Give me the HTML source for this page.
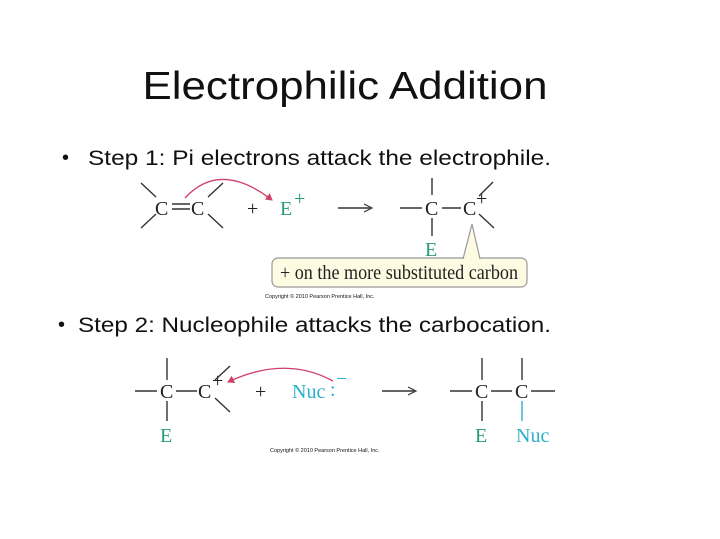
<!DOCTYPE html>
<html><head><meta charset="utf-8"><style>
html,body{margin:0;padding:0;background:#fff;}
svg{display:block}
.s{font-family:"Liberation Sans",sans-serif;fill:#111}
.m{font-family:"Liberation Serif",serif;font-size:20px;fill:#222}
.g{fill:#2a9a78}.c{fill:#2ab0c8}
line{stroke:#333;stroke-width:1.4}
</style></head><body>
<svg width="720" height="539" viewBox="0 0 720 539" xmlns="http://www.w3.org/2000/svg">
<defs><marker id="ah" markerWidth="8" markerHeight="8" refX="6" refY="4" orient="auto" markerUnits="userSpaceOnUse"><path d="M0,0 L7,4 L0,8 z" fill="#d0406a"/></marker></defs>
<text class="s" x="345" y="99" font-size="39" text-anchor="middle" textLength="405" lengthAdjust="spacingAndGlyphs">Electrophilic Addition</text>
<text class="s" x="62" y="164" font-size="20">•</text>
<text class="s" x="88" y="165" font-size="21" textLength="463" lengthAdjust="spacingAndGlyphs">Step 1:  Pi electrons attack the electrophile.</text>
<text class="s" x="58" y="331" font-size="20">•</text>
<text class="s" x="78" y="332" font-size="21" textLength="473" lengthAdjust="spacingAndGlyphs">Step 2:  Nucleophile attacks the carbocation.</text>

<!-- reaction 1 -->
<line x1="141" y1="183" x2="156" y2="197"/><line x1="141" y1="228" x2="156" y2="214"/>
<text class="m" x="155" y="215">C</text>
<line x1="172" y1="204" x2="190" y2="204"/><line x1="172" y1="209" x2="190" y2="209"/>
<text class="m" x="191" y="215">C</text>
<line x1="208" y1="197" x2="223" y2="183"/><line x1="208" y1="214" x2="223" y2="228"/>
<text class="m" x="247" y="215">+</text>
<text class="m g" x="280" y="215">E</text><text class="m g" x="294" y="205" font-size="10">+</text>
<path d="M185,198 Q220,160 272,200" fill="none" stroke="#d0406a" stroke-width="1.3" marker-end="url(#ah)"/>
<line x1="338" y1="208" x2="370" y2="208"/><path d="M364,204 L372,208 L364,212" fill="none" stroke="#333" stroke-width="1.2"/>
<line x1="400" y1="208" x2="422" y2="208"/>
<line x1="432" y1="178" x2="432" y2="195"/><line x1="432" y1="218" x2="432" y2="236"/>
<text class="m" x="425" y="215">C</text>
<line x1="442" y1="208" x2="461" y2="208"/>
<text class="m" x="463" y="215">C</text><text class="m" x="476" y="205" font-size="10">+</text>
<line x1="479" y1="196" x2="493" y2="182"/><line x1="479" y1="214" x2="494" y2="228"/>
<text class="m g" x="425" y="256">E</text>
<rect x="272" y="258" width="255" height="29" rx="6" fill="#fdfbe2" stroke="#999" stroke-width="1.2"/>
<path d="M463,259 L472,224 L480,259" fill="#fdfbe2" stroke="#999" stroke-width="1.2"/>
<line x1="464" y1="259" x2="479" y2="259" style="stroke:#fdfbe2;stroke-width:2"/>
<text class="m" x="280" y="279" font-size="18" textLength="238" lengthAdjust="spacingAndGlyphs">+ on the more substituted carbon</text>
<text class="s" x="265" y="298" font-size="5.5" fill="#444">Copyright © 2010 Pearson Prentice Hall, Inc.</text>

<!-- reaction 2 -->
<line x1="135" y1="391" x2="157" y2="391"/>
<line x1="167" y1="358" x2="167" y2="380"/><line x1="167" y1="401" x2="167" y2="421"/>
<text class="m" x="160" y="398">C</text>
<line x1="176" y1="391" x2="197" y2="391"/>
<text class="m" x="198" y="398">C</text><text class="m" x="212" y="387" font-size="10">+</text>
<line x1="215" y1="380" x2="230" y2="366"/><line x1="215" y1="398" x2="230" y2="412"/>
<text class="m" x="255" y="398">+</text>
<text class="m c" x="292" y="398">Nuc</text><text class="m c" x="330" y="396">:</text><text class="m c" x="336" y="385" font-size="11">−</text>
<path d="M333,381 Q285,355 228,382" fill="none" stroke="#d0406a" stroke-width="1.3" marker-end="url(#ah)"/>
<line x1="382" y1="391" x2="414" y2="391"/><path d="M408,387 L416,391 L408,395" fill="none" stroke="#333" stroke-width="1.2"/>
<line x1="450" y1="391" x2="472" y2="391"/>
<line x1="482" y1="358" x2="482" y2="380"/><line x1="482" y1="401" x2="482" y2="421"/>
<text class="m" x="475" y="398">C</text>
<line x1="491" y1="391" x2="512" y2="391"/>
<text class="m" x="515" y="398">C</text>
<line x1="522" y1="358" x2="522" y2="380"/>
<line x1="522" y1="401" x2="522" y2="421" style="stroke:#2ab0c8"/>
<line x1="531" y1="391" x2="555" y2="391"/>
<text class="m g" x="160" y="442">E</text>
<text class="m g" x="475" y="442">E</text>
<text class="m c" x="516" y="442">Nuc</text>
<text class="s" x="270" y="452" font-size="5.5" fill="#444">Copyright © 2010 Pearson Prentice Hall, Inc.</text>
</svg>
</body></html>
